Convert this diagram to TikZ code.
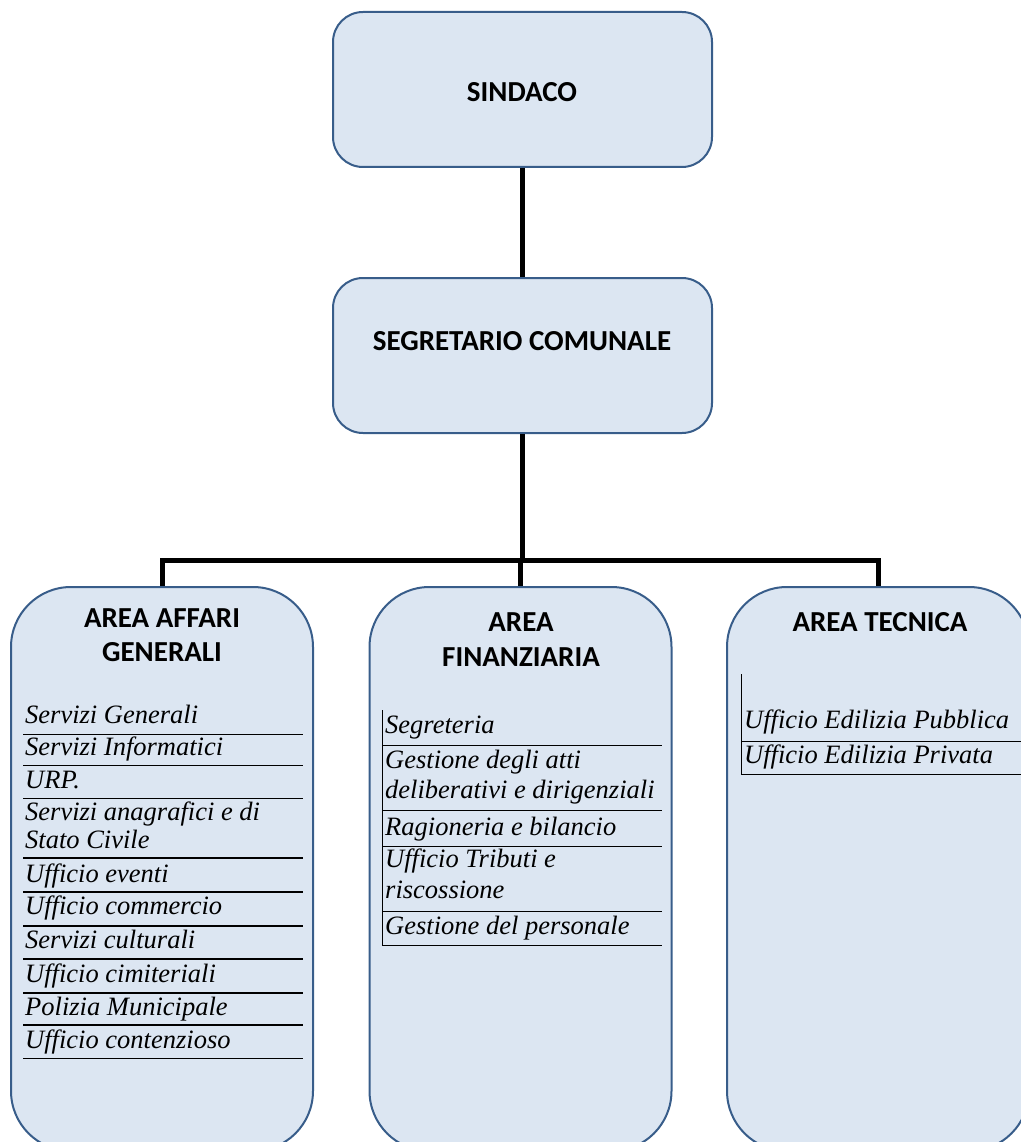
\documentclass[tikz,border=0pt]{standalone}
\usepackage{fontspec}
\setmainfont{Liberation Serif}
\newfontfamily\hdfont{Carlito}
\definecolor{boxfill}{HTML}{DCE6F2}
\definecolor{boxline}{HTML}{385D8A}
\begin{document}
\begin{tikzpicture}[x=1pt,y=-1pt,
  box/.style={draw=boxline, fill=boxfill, line width=2pt, rounded corners=30pt, inner sep=0pt},
  bigbox/.style={box, rounded corners=60pt, minimum width=302pt, minimum height=564pt},
  topbox/.style={box, minimum width=379pt, minimum height=155pt},
  title/.style={font=\hdfont\bfseries\fontsize{29}{34}\selectfont, inner sep=0pt, anchor=center},
  item/.style={font=\itshape\fontsize{26.5}{32}\selectfont, anchor=base west, inner sep=0pt},
  conn/.style={line width=5pt},
  thinrule/.style={line width=1pt},
  thickrule/.style={line width=2pt}]
\useasboundingbox (0,0) rectangle (1020,1142);
% boxes
\node[topbox] (sindaco) at (522.5,89.5) {};
\node[topbox] (segr) at (522.5,355.5) {};
\node[bigbox] (aag) at (162,869) {};
\node[bigbox] (afin) at (520.5,869) {};
\node[bigbox] (atec) at (878,869) {};
% connectors
\coordinate (bus) at (522.5,560);
\draw[conn] (sindaco.south) -- (segr.north);
\draw[conn] (segr.south) -- (bus);
\draw[conn] (bus) -| (aag.north);
\draw[conn] (bus) -| (afin.north);
\draw[conn] (bus) -| (atec.north);
% titles
\node[title] (tsind) at (522,92) {SINDACO};
\node[title] (tsegr) at (522,341) {SEGRETARIO COMUNALE};
\node[title] (taag1) at (162,618) {AREA AFFARI};
\node[title] (taag2) at (162,652) {GENERALI};
\node[title] (tfin1) at (521,622) {AREA};
\node[title] (tfin2) at (521,657) {FINANZIARIA};
\node[title] (ttec) at (880,622) {AREA TECNICA};
% left list
\node[item] (l1) at (25,723) {Servizi Generali};
\node[item] (l2) at (25,755) {Servizi Informatici};
\node[item] (l3) at (25,788) {URP.};
\node[item] (l4a) at (25,820) {Servizi anagrafici e di};
\node[item] (l4b) at (25,848) {Stato Civile};
\node[item] (l5) at (25,882) {Ufficio eventi};
\node[item] (l6) at (25,914) {Ufficio commercio};
\node[item] (l7) at (25,948) {Servizi culturali};
\node[item] (l8) at (25,982) {Ufficio cimiteriali};
\node[item] (l9) at (25,1015) {Polizia Municipale};
\node[item] (l10) at (25,1048) {Ufficio contenzioso};
\draw[thinrule] (23,734) -- (303,734);
\draw[thinrule] (23,765) -- (303,765);
\draw[thinrule] (23,798) -- (303,798);
\draw[thickrule] (23,858) -- (303,858);
\draw[thickrule] (23,892) -- (303,892);
\draw[thickrule] (23,926) -- (303,926);
\draw[line width=1.5pt] (23,959) -- (303,959);
\draw[thickrule] (23,993) -- (303,993);
\draw[thickrule] (23,1025) -- (303,1025);
\draw[thinrule] (23,1058) -- (303,1058);
% middle list
\node[item] (m1) at (385,733) {Segreteria};
\node[item] (m2a) at (385,768) {Gestione degli atti};
\node[item] (m2b) at (385,798) {deliberativi e dirigenziali};
\node[item] (m3) at (385,835) {Ragioneria e bilancio};
\node[item] (m4a) at (385,867) {Ufficio Tributi e};
\node[item] (m4b) at (385,898) {riscossione};
\node[item] (m5) at (385,934) {Gestione del personale};
\draw[thinrule] (382,710) -- (382,945);
\draw[thinrule] (382,745) -- (662,745);
\draw[thinrule] (382,810) -- (662,810);
\draw[thinrule] (382,846) -- (662,846);
\draw[thinrule] (382,911) -- (662,911);
\draw[thinrule] (382,945) -- (662,945);
% right list
\node[item] (r1) at (744,728) {Ufficio Edilizia Pubblica};
\node[item] (r2) at (744,763) {Ufficio Edilizia Privata};
\draw[thinrule] (741,674) -- (741,774);
\draw[thinrule] (741,741) -- (1025,741);
\draw[thinrule] (741,774) -- (1025,774);
\end{tikzpicture}
\end{document}
